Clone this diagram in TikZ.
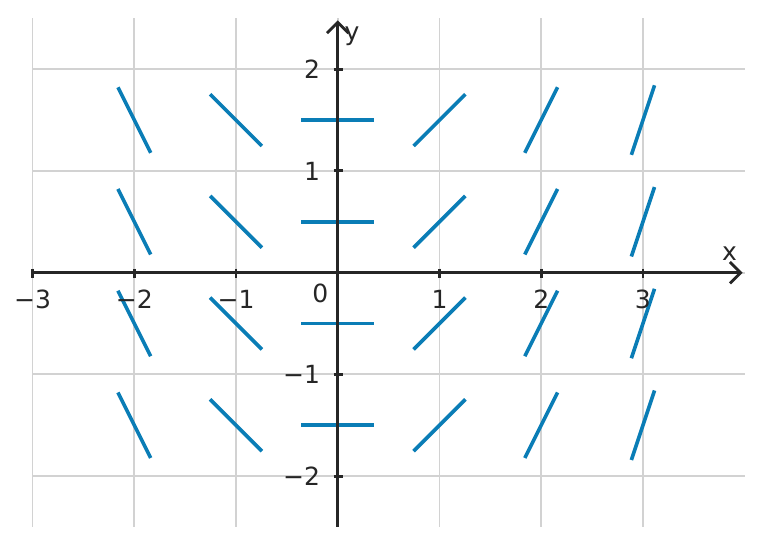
\documentclass[tikz,border=0pt]{standalone}
\usepackage{fontspec}
\setmainfont{DejaVu Sans}
\usetikzlibrary{arrows.meta}
\definecolor{fieldblue}{HTML}{0A7DB6}
\tikzset{
  gridline/.style={draw=gray!35, line width=0.5pt},
  axis/.style={draw=black!85, line width=0.8pt, -{Straight Barb[length=3pt,width=6pt]}},
  slope/.style={draw=fieldblue, line width=1pt},
  ticklabel/.style={font=\scriptsize, text=black!85, inner sep=1pt}
}
\begin{document}
\begin{tikzpicture}
            \useasboundingbox (-3.32,-2.71) rectangle (4.18,2.68);
            % grid
            \foreach \x in {-3,...,3}
                \draw[gridline] (\x,-2.5) -- (\x,2.5);
            \foreach \y in {-2,...,2}
                \draw[gridline] (-3,\y) -- (4.0,\y);

            % slope segments, dy/dx = x
            \foreach \x in {-2,...,3}
                \foreach \y in {-1.5,-0.5,0.5,1.5}
                    \draw[slope] (\x,\y) ++({-0.36*cos(atan(\x))},{-0.36*sin(atan(\x))})
                        -- ++({0.72*cos(atan(\x))},{0.72*sin(atan(\x))});

            % axes
            \draw[axis] (-3,0) -- (3.98,0);
            \draw[axis] (0,-2.5) -- (0,2.48);
            \foreach \x/\t in {-3/−3,-2/−2,-1/−1,1/1,2/2,3/3}
                \draw[black!85, line width=0.8pt] (\x,0.04) -- (\x,-0.05)
                    node[ticklabel, below=2pt] {\t};
            \foreach \y/\t in {-2/−2,-1/−1,1/1,2/2}
                \draw[black!85, line width=0.8pt] (-0.04,\y) -- (0.05,\y)
                    node[ticklabel, left=5pt] {\t};
            \node[ticklabel] (origin) at (-0.17,-0.2) {0};
            \node[ticklabel] (xlabel) at (3.85,0.19) {x};
            \node[ticklabel] (ylabel) at (0.14,2.32) {y};
        \end{tikzpicture}
\end{document}
